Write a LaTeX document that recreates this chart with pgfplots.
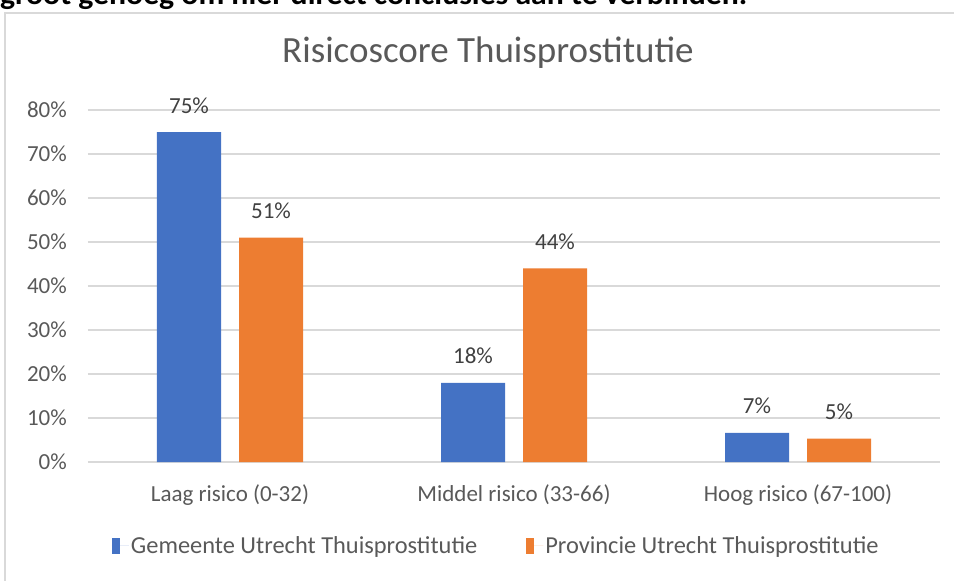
\documentclass[border=0pt]{standalone}
\usepackage{fontspec}
\setmainfont{Carlito}
\usepackage{graphicx}
\usepackage{pgfplots}
\pgfplotsset{compat=1.18}
\definecolor{xlblue}{HTML}{4472C4}
\definecolor{xlorange}{HTML}{ED7D31}
\definecolor{gridgray}{HTML}{D9D9D9}
\definecolor{txtgray}{HTML}{595959}
\definecolor{lblgray}{HTML}{404040}
\pgfplotsset{sqlegend/.style={legend image code/.code={\fill[##1] (0pt,-8pt) rectangle (8pt,8pt); \path (0pt,0pt) -- (17pt,0pt);}}}
\begin{document}
\begin{tikzpicture}
\useasboundingbox (0pt,0pt) rectangle (954pt,-581pt);
\begin{scope}
  \clip (0pt,0pt) rectangle (954pt,-10pt);
  \node[anchor=base west, inner sep=0pt, font=\fontsize{30}{34}\selectfont\bfseries] at (0pt,-4pt) {\resizebox{747pt}{\height}{groot genoeg om hier direct conclusies aan te verbinden.}};
\end{scope}
\draw[gridgray, line width=2pt] (5pt,-13pt) rectangle (975pt,-600pt);
\node[anchor=base, text=txtgray, inner sep=0pt, font=\fontsize{37}{41}\selectfont] at (488pt,-62pt) {Risicoscore Thuisprostitutie};
\begin{axis}[
  at={(88pt,-462pt)}, anchor=south west,
  scale only axis, width=852pt, height=352pt,
  ybar=18pt, bar width=64pt,
  xmin=-0.5, xmax=2.5, ymin=0, ymax=80,
  xtick=data,
  xticklabels={Laag risico (0-32), Middel risico (33-66), Hoog risico (67-100)},
  ytick={0,10,...,80},
  yticklabel={\pgfmathprintnumber{\tick}\%},
  axis line style={draw=none}, major tick length=0pt,
  ymajorgrids, grid style={gridgray, line width=2.5pt},
  ticklabel style={font=\fontsize{23}{27}\selectfont, text=txtgray},
  yticklabel style={anchor=east, inner sep=0pt, xshift=-21pt},
  xticklabel style={anchor=north, inner sep=0pt, yshift=-22pt},
  /pgf/number format/assume math mode=true,
  nodes near coords={\pgfmathprintnumber[fixed,precision=0]{\pgfplotspointmeta}\%},
  every node near coord/.append style={font=\fontsize{23}{27}\selectfont, text=lblgray, inner sep=0pt, anchor=base, yshift=19pt},
  legend columns=2,
  legend style={at={(0.0244,-0.2386)}, anchor=west, draw=none, fill=none,
    font=\fontsize{24.4}{28}\selectfont, text=txtgray,
    /tikz/every even column/.append style={column sep=47pt}},
  legend cell align=left,
]
\addplot[fill=xlblue, draw=none, sqlegend] coordinates {(0,75) (1,18) (2,6.6)};
\addplot[fill=xlorange, draw=none, sqlegend] coordinates {(0,51) (1,44) (2,5.3)};
\legend{Gemeente Utrecht Thuisprostitutie, Provincie Utrecht Thuisprostitutie}
\end{axis}
\end{tikzpicture}
\end{document}
